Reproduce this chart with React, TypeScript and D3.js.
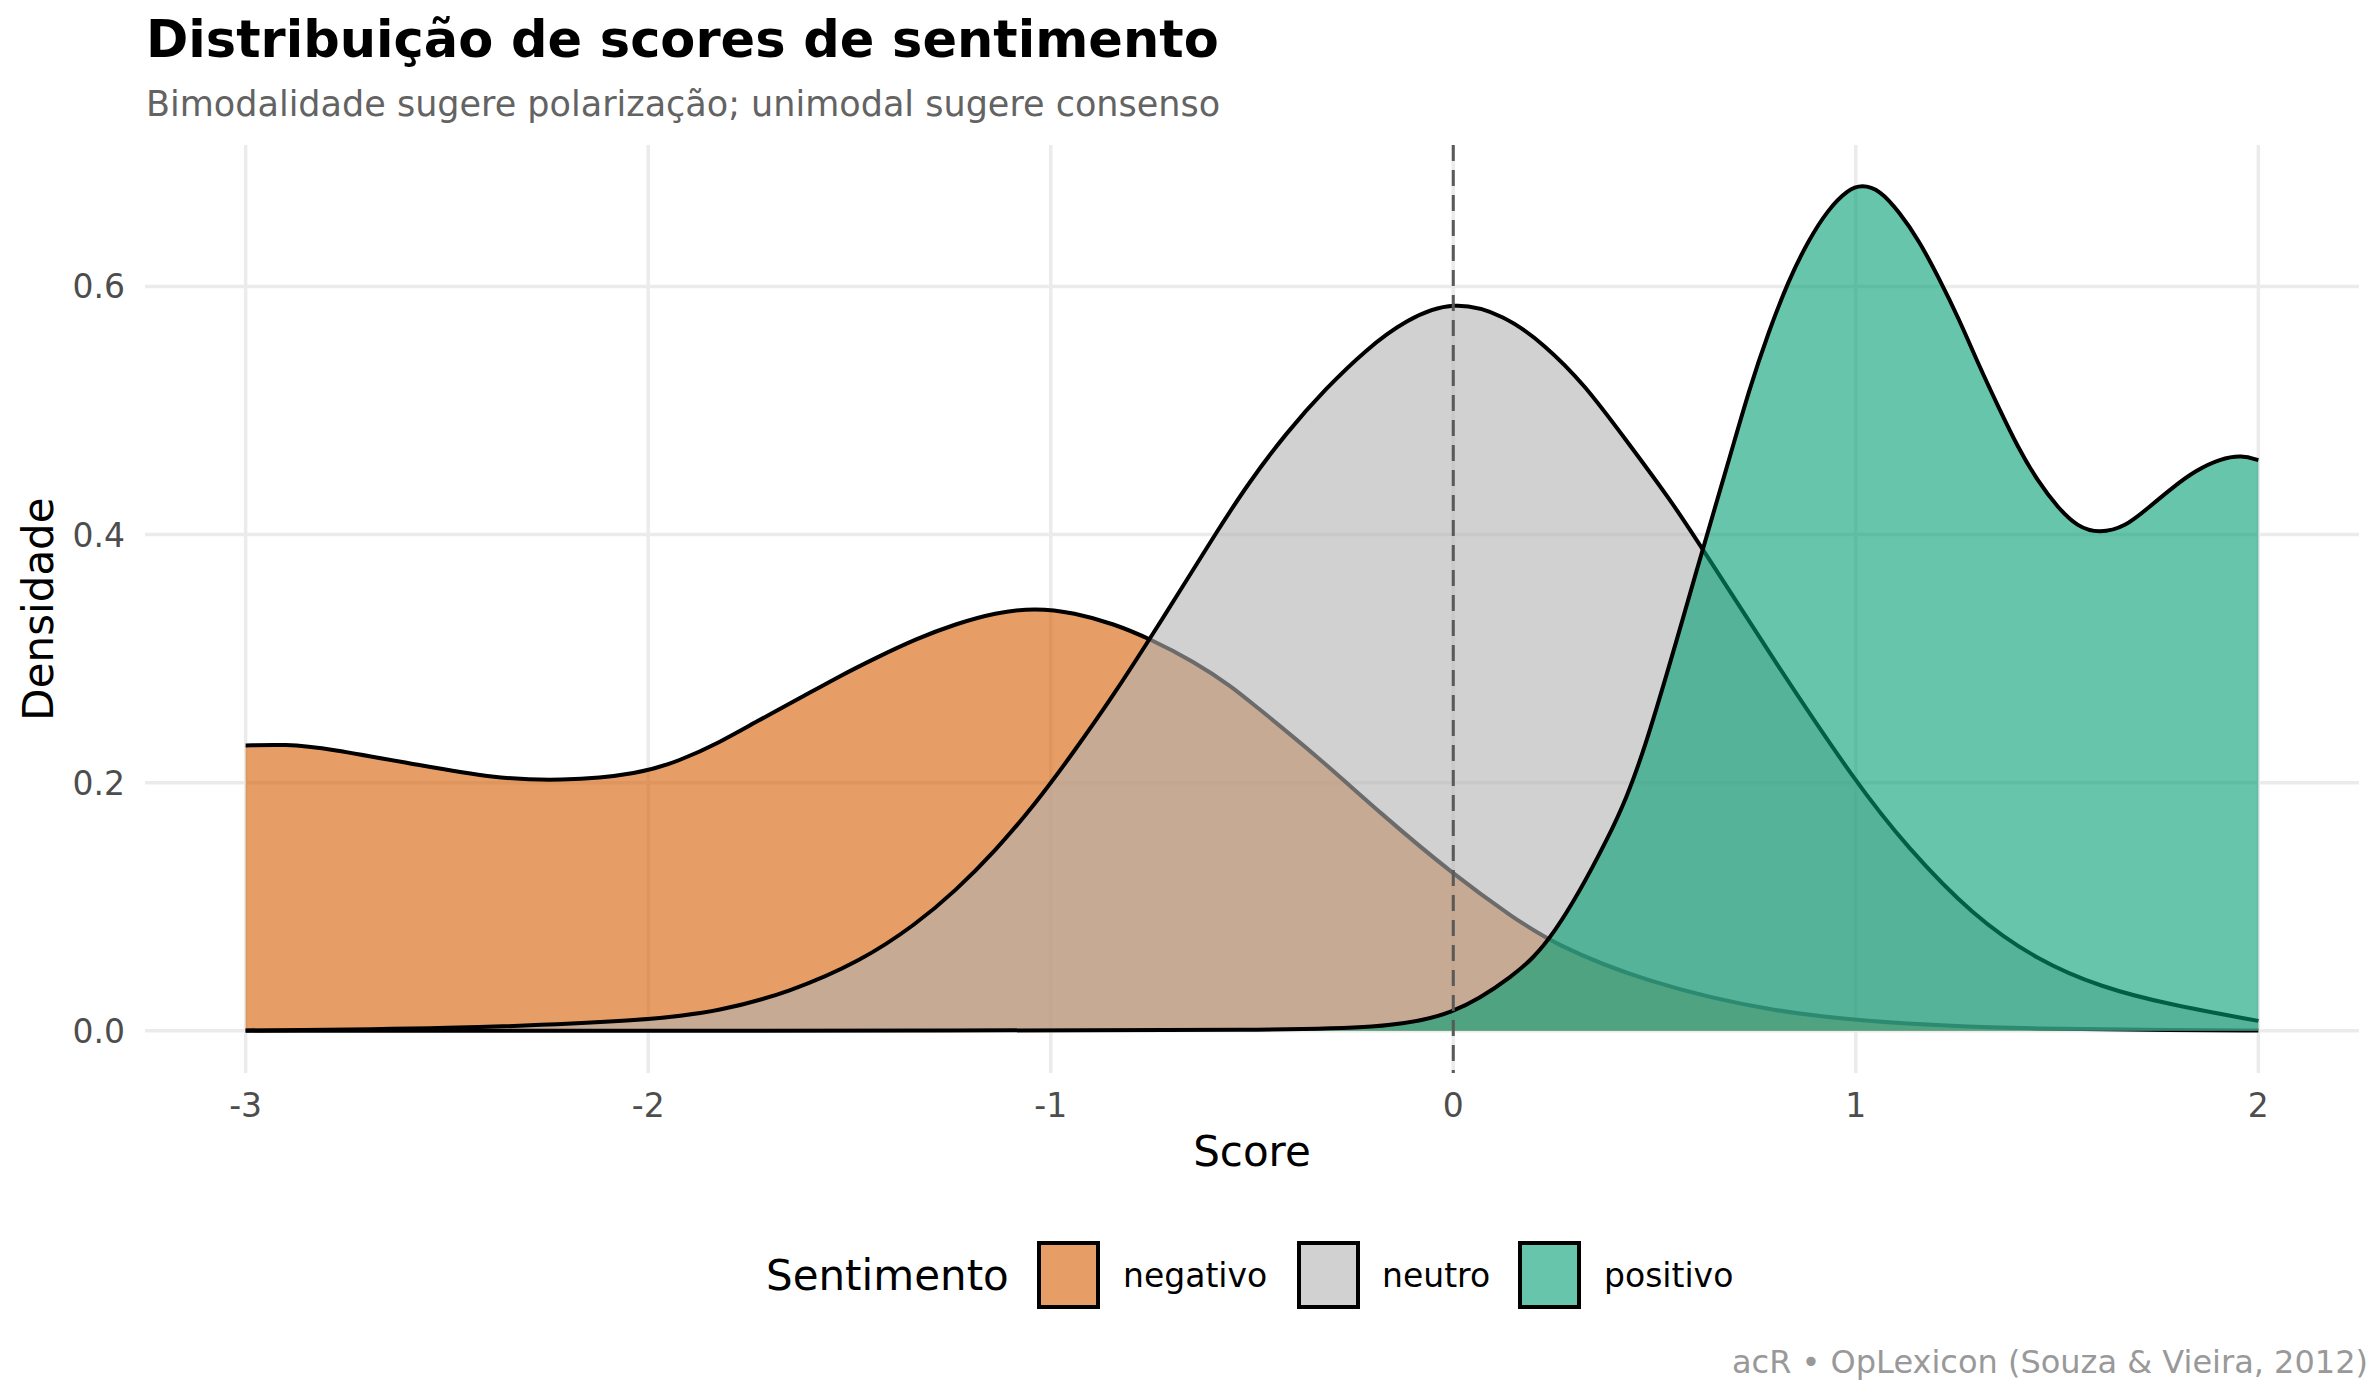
import * as d3 from 'd3';

// density curves (x = score, y = density)
const negX = [-3, -2.9, -2.8, -2.55, -2.39, -2.22, -2.02, -1.92, -1.825, -1.727, -1.629, -1.53, -1.432, -1.334, -1.236, -1.138, -1.039, -0.941, -0.843, -0.754, -0.646, -0.548, -0.5, -0.34, -0.18, 0, 0.15, 0.25, 0.47, 0.8, 1.13, 1.45, 1.8, 2];
const negY = [0.23, 0.231, 0.228, 0.213, 0.204, 0.201, 0.207, 0.218, 0.232, 0.25, 0.267, 0.285, 0.301, 0.316, 0.328, 0.337, 0.341, 0.337, 0.328, 0.316, 0.298, 0.277, 0.264, 0.222, 0.175, 0.126, 0.091, 0.07, 0.04, 0.014, 0.005, 0.0015, 0.0005, 0.0002];

const neuX = [-3, -2.5, -2.0, -1.82, -1.65, -1.472, -1.334, -1.236, -1.138, -1.039, -0.941, -0.843, -0.754, -0.68, -0.59, -0.51, -0.415, -0.316, -0.217, -0.119, 0, 0.128, 0.227, 0.326, 0.425, 0.542, 0.62, 0.8, 1.0, 1.13, 1.29, 1.45, 1.61, 1.78, 2.0];
const neuY = [0.0003, 0.0015, 0.008, 0.016, 0.031, 0.056, 0.086, 0.113, 0.145, 0.1825, 0.2255, 0.271, 0.316, 0.354, 0.401, 0.441, 0.482, 0.518, 0.549, 0.573, 0.589, 0.577, 0.553, 0.521, 0.478, 0.427, 0.388, 0.297, 0.2, 0.147, 0.093, 0.057, 0.035, 0.021, 0.008];

const posX = [-3, -1, -0.5, -0.18, 0, 0.15, 0.245, 0.39, 0.47, 0.617, 0.685, 0.734, 0.784, 0.833, 0.882, 0.931, 0.98, 1.015, 1.059, 1.108, 1.157, 1.206, 1.256, 1.305, 1.354, 1.403, 1.452, 1.501, 1.551, 1.605, 1.669, 1.728, 1.787, 1.846, 1.905, 1.959, 2.0];
const posY = [0, 0.0001, 0.0008, 0.002, 0.012, 0.044, 0.072, 0.157, 0.217, 0.386, 0.46, 0.516, 0.564, 0.605, 0.637, 0.662, 0.678, 0.682, 0.678, 0.66, 0.637, 0.607, 0.574, 0.537, 0.503, 0.47, 0.443, 0.422, 0.406, 0.401, 0.406, 0.422, 0.438, 0.452, 0.461, 0.464, 0.46];

const categories = ['negativo', 'neutro', 'positivo'];
const fills = ['#D55E00', '#B3B3B3', '#009E73'];
const xTicks = [-3, -2, -1, 0, 1, 2];
const yTicks = [0, 0.2, 0.4, 0.6];

const W = 2380;
const H = 1400;
const panel = { left: 145, right: 2359, top: 145, bottom: 1073 };
const font = 'DejaVu Sans';

export default function App() {
  const series = [
    { name: categories[0], pts: negX.map((x, i) => [x, negY[i]] as [number, number]) },
    { name: categories[1], pts: neuX.map((x, i) => [x, neuY[i]] as [number, number]) },
    { name: categories[2], pts: posX.map((x, i) => [x, posY[i]] as [number, number]) },
  ];

  const xMin = -3;
  const xMax = 2;
  const xPad = (xMax - xMin) * 0.05;
  const yMax = 0.68;
  const yPad = yMax * 0.05;

  const x = d3.scaleLinear().domain([xMin - xPad, xMax + xPad]).range([panel.left, panel.right]);
  const y = d3.scaleLinear().domain([-yPad, yMax + yPad]).range([panel.bottom, panel.top]);

  // B-spline smooths the small reading noise between the sampled points
  const curve = d3.curveBasis;
  const area = d3
    .area<[number, number]>()
    .x((d) => x(d[0]))
    .y0(y(0))
    .y1((d) => y(d[1]))
    .curve(curve);
  const line = d3
    .line<[number, number]>()
    .x((d) => x(d[0]))
    .y((d) => y(d[1]))
    .curve(curve);

  const color = d3.scaleOrdinal<string, string>().domain(categories).range(fills);

  // legend layout
  const legendKeys = [1037, 1297, 1518];
  const legendLabels = [1123, 1382, 1604];

  return (
    <>
      <style>{'body{margin:0}'}</style>
      <svg width={W} height={H} viewBox={`0 0 ${W} ${H}`} style={{ display: 'block', fontFamily: font }}>
        <rect width={W} height={H} fill="#fff" />

        {/* grid */}
        {yTicks.map((t) => (
          <line key={'gy' + t} x1={panel.left} x2={panel.right} y1={y(t)} y2={y(t)} stroke="#EBEBEB" strokeWidth={3.5} />
        ))}
        {xTicks.map((t) => (
          <line key={'gx' + t} x1={x(t)} x2={x(t)} y1={panel.top} y2={panel.bottom} stroke="#EBEBEB" strokeWidth={3.5} />
        ))}

        {/* densities */}
        {series.map((s) => (
          <g key={s.name}>
            <path d={area(s.pts) ?? ''} fill={color(s.name)} fillOpacity={0.6} />
            <path d={line(s.pts) ?? ''} fill="none" stroke="#000" strokeWidth={4} />
          </g>
        ))}

        {/* reference line at zero */}
        <line x1={x(0)} x2={x(0)} y1={panel.top} y2={panel.bottom} stroke="#595959" strokeWidth={3} strokeDasharray="16 9" />

        {/* axes */}
        {yTicks.map((t) => (
          <text key={'ty' + t} x={125} y={y(t) + 12} textAnchor="end" fontSize={33} fill="#4D4D4D">
            {t.toFixed(1)}
          </text>
        ))}
        {xTicks.map((t) => (
          <text key={'tx' + t} x={x(t)} y={1117} textAnchor="middle" fontSize={33} fill="#4D4D4D">
            {t}
          </text>
        ))}
        <text x={(panel.left + panel.right) / 2} y={1166} textAnchor="middle" fontSize={42} fill="#000">
          Score
        </text>
        <text transform={`translate(53,${(panel.top + panel.bottom) / 2}) rotate(-90)`} textAnchor="middle" fontSize={42} fill="#000">
          Densidade
        </text>

        {/* titles */}
        <text x={146} y={57} fontSize={51} fontWeight="bold" fill="#000">
          Distribuição de scores de sentimento
        </text>
        <text x={146} y={116} fontSize={35} fill="#636363">
          Bimodalidade sugere polarização; unimodal sugere consenso
        </text>

        {/* legend */}
        <text x={766} y={1290} fontSize={42} fill="#000">
          Sentimento
        </text>
        {categories.map((c, i) => (
          <g key={'lg' + c}>
            <rect x={legendKeys[i] + 2} y={1243} width={59} height={64} fill={color(c)} fillOpacity={0.6} stroke="#000" strokeWidth={4} />
            <text x={legendLabels[i]} y={1287} fontSize={33} fill="#000">
              {c}
            </text>
          </g>
        ))}

        <text x={2368} y={1373} textAnchor="end" fontSize={32} fill="#999999">
          acR • OpLexicon (Souza &amp; Vieira, 2012)
        </text>
      </svg>
    </>
  );
}
